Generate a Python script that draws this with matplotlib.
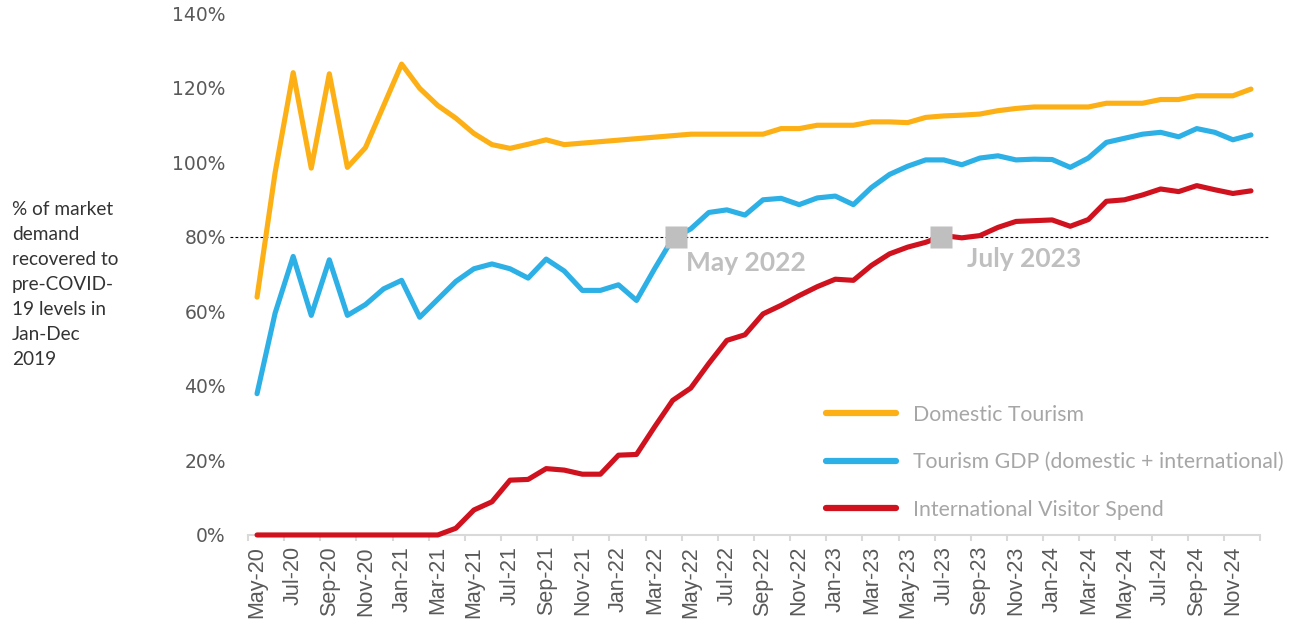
import numpy as np
import pandas as pd
import matplotlib
matplotlib.use('Agg')
import matplotlib.pyplot as plt

plt.rcParams['font.family'] = ['Lato', 'DejaVu Sans']

# monthly categories May-20 .. Dec-24
months = pd.date_range('2020-05-01', periods=56, freq='MS').strftime('%b-%y').tolist()

domestic = [63.8, 97.2, 124.0, 98.4, 123.7, 98.6, 103.9, 115.1, 126.3, 119.8,
            115.2, 111.8, 107.7, 104.7, 103.7, 104.8, 106.0, 104.7, 105.1, 105.5,
            105.9, 106.3, 106.7, 107.1, 107.5, 107.5, 107.5, 107.5, 107.5, 109.0,
            109.0, 109.9, 109.9, 109.9, 110.8, 110.8, 110.6, 112.0, 112.4, 112.6,
            112.9, 113.8, 114.4, 114.8, 114.8, 114.8, 114.8, 115.8, 115.8, 115.8,
            116.8, 116.8, 117.8, 117.8, 117.8, 119.6]

tourism_gdp = [37.9, 59.5, 74.7, 58.9, 73.8, 58.9, 61.8, 66.0, 68.3, 58.4,
               63.2, 68.0, 71.4, 72.7, 71.4, 68.9, 74.0, 70.8, 65.6, 65.6,
               67.1, 62.9, 71.4, 79.5, 82.1, 86.5, 87.2, 85.8, 89.9, 90.3,
               88.6, 90.4, 90.9, 88.6, 93.2, 96.7, 98.9, 100.6, 100.6, 99.3,
               101.1, 101.7, 100.6, 100.8, 100.7, 98.6, 101.1, 105.3, 106.4, 107.5,
               108.0, 106.8, 109.0, 108.0, 106.0, 107.3]

intl_spend = [0, 0, 0, 0, 0, 0, 0, 0, 0, 0,
              0, 1.8, 6.7, 8.9, 14.7, 14.9, 17.8, 17.4, 16.3, 16.3,
              21.4, 21.6, 29.0, 36.1, 39.4, 46.0, 52.2, 53.7, 59.3, 61.6,
              64.2, 66.6, 68.6, 68.3, 72.3, 75.4, 77.2, 78.5, 80.3, 79.7,
              80.3, 82.5, 84.1, 84.3, 84.5, 82.8, 84.6, 89.5, 89.9, 91.2,
              92.8, 92.1, 93.7, 92.6, 91.6, 92.3]

threshold = 80
milestone_labels = ['May 2022', 'July 2023']
yticks = [0, 20, 40, 60, 80, 100, 120, 140]

fig = plt.figure(figsize=(12.89, 6.23), dpi=100)
ax = fig.add_axes([0.1924, 0.1413, 0.7851, 0.8378])
x = np.arange(len(months))

ax.plot(x, domestic, color='#FDB015', lw=3.7, label='Domestic Tourism',
        solid_capstyle='round', clip_on=False, zorder=3)
ax.plot(x, tourism_gdp, color='#2DB0E6', lw=3.7, label='Tourism GDP (domestic + international)',
        solid_capstyle='round', clip_on=False, zorder=3)
ax.plot(x, intl_spend, color='#D0121F', lw=3.7, label='International Visitor Spend',
        solid_capstyle='round', clip_on=False, zorder=3)

# 80% reference line
ax.axhline(threshold, xmin=-0.018, xmax=1.008, color='black', lw=0.8,
           ls=(0, (2.5, 2)), clip_on=False, zorder=2)

# squares where the series first cross 80%
offsets = [(7, -19), (19, -16)]
for s, lab, off in zip([tourism_gdp, intl_spend], milestone_labels, offsets):
    arr = np.array(s)
    i = int(np.argmax(arr >= threshold))
    xc = (i - 1) + (threshold - arr[i - 1]) / (arr[i] - arr[i - 1])
    ax.plot(xc, threshold, marker='s', ms=15.5, color='#BFBFBF', mec='none', zorder=5)
    ax.annotate(lab, (xc, threshold), xytext=off, textcoords='offset points',
                ha='left', va='center', fontsize=19, fontweight='bold', color='#BFBFBF')

ax.set_xlim(-0.5, 55.5)
ax.set_ylim(0, 140)
ax.set_yticks(yticks)
ax.set_yticklabels([f'{v}%' for v in yticks], family='DejaVu Sans')
ax.set_xticks(x[::2])
ax.set_xticklabels(months[::2], rotation=90, family='Liberation Sans')
ax.set_xticks(np.arange(-0.5, 56, 2), minor=True)

for sp in ['left', 'top', 'right']:
    ax.spines[sp].set_visible(False)
ax.spines['bottom'].set_color('#D9D9D9')
ax.spines['bottom'].set_linewidth(1.5)

ax.tick_params(axis='y', length=0, pad=16, labelsize=13.5, labelcolor='#595959')
ax.tick_params(axis='x', which='major', length=0, pad=8, labelsize=15.5, labelcolor='#595959')
ax.tick_params(axis='x', which='minor', length=4, width=1.5, color='#D9D9D9')

leg = ax.legend(loc='upper left', bbox_to_anchor=(0.561, 0.270), frameon=False,
                fontsize=15.3, handlelength=3.3, handletextpad=0.8, labelspacing=1.3,
                borderpad=0, labelcolor='#A6A6A6')
for h in leg.get_lines():
    h.set_linewidth(4.5)

fig.text(0.0093, 1 - 201 / 623,
         '% of market\ndemand\nrecovered to\npre-COVID-\n19 levels in\nJan-Dec\n2019',
         va='top', ha='left', fontsize=13.7, linespacing=1.57, color='#333333')

fig.savefig('out.png', dpi=100)
